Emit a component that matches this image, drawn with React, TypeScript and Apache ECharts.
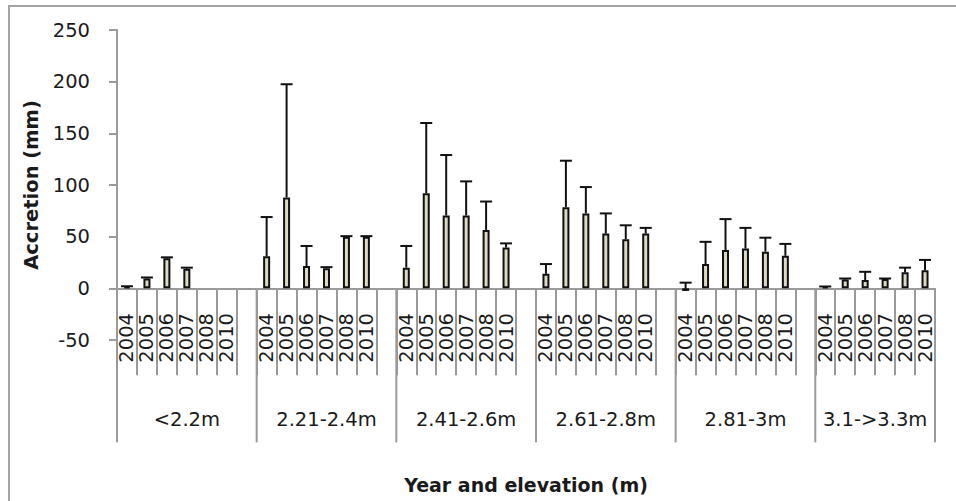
import React, { useEffect, useRef } from 'react';
import * as echarts from 'echarts';

// ---- data ----
const years = ['2004', '2005', '2006', '2007', '2008', '2010'];
const groups = ['<2.2m', '2.21-2.4m', '2.41-2.6m', '2.61-2.8m', '2.81-3m', '3.1->3.3m'];
const accretion: (number | null)[][] = [
  [1.5, 9.5, 29, 19, null, null],
  [31, 88, 21.5, 19.5, 50, 50],
  [20, 92, 70.5, 70.5, 56.5, 39.5],
  [14, 78.5, 72.5, 53, 47.5, 53],
  [-2.5, 23.5, 37, 38.5, 35.5, 31.5],
  [1.5, 8.5, 8, 9, 15.5, 17.5],
];
const errorPlus: (number | null)[][] = [
  [0.5, 1, 1, 1, null, null],
  [38, 109.5, 19.5, 1, 0.5, 0.5],
  [21, 68, 58.5, 33, 27.5, 4],
  [9.5, 45, 25.5, 19.5, 13.5, 5.5],
  [8, 21.5, 30, 20, 13.5, 11.5],
  [0.3, 1, 8, 0.5, 4.5, 10],
];
const yMin = -50;
const yMax = 250;
const yStep = 50;

const FONT = '"DejaVu Sans", Verdana, sans-serif';
const TEXT = '#1a1a1a';
const GRAY = '#9a9a9a';

// ---- derived tables ----
const categories: string[] = [];
const barData: (number | string)[] = [];
const errData: number[][] = [];
const groupSpans: number[][] = [];
groups.forEach((g, gi) => {
  const start = categories.length;
  years.forEach((y, yi) => {
    const idx = categories.length;
    categories.push(y);
    const v = accretion[gi][yi];
    const e = errorPlus[gi][yi];
    barData.push(v == null ? '-' : v);
    if (v != null && e != null) errData.push([idx, v, e]);
  });
  if (gi < groups.length - 1) {
    categories.push('');
    barData.push('-');
  }
  groupSpans.push([start, categories.length, 0]);
});

export default function App() {
  const ref = useRef<HTMLDivElement>(null);
  useEffect(() => {
    if (!ref.current) return;
    const chart = echarts.init(ref.current, null, { renderer: 'svg' });
    chart.setOption({
      animation: false,
      backgroundColor: '#fff',
      textStyle: { fontFamily: FONT },
      graphic: [
        {
          type: 'rect',
          x: 9,
          y: 6,
          shape: { x: 0, y: 0, width: 1000, height: 600 },
          style: { fill: 'none', stroke: '#a3a3a3', lineWidth: 2 },
          z: -10,
          silent: true,
        },
      ],
      grid: {
        left: 117,
        right: 21,
        top: 30,
        bottom: 161,
        containLabel: false,
        outerBoundsMode: 'none',
      },
      xAxis: {
        type: 'category',
        data: categories,
        boundaryGap: true,
        axisLine: { onZero: true, lineStyle: { color: GRAY, width: 2 } },
        axisTick: { show: true, interval: 0, length: 87, lineStyle: { color: GRAY, width: 2 } },
        axisLabel: {
          interval: 0,
          rotate: 90,
          margin: -27,
          color: TEXT,
          fontSize: 19.5,
          fontFamily: FONT,
        },
        splitLine: { show: false },
        name: 'Year and elevation (m)',
        nameLocation: 'middle',
        nameGap: 135,
        nameTextStyle: { fontWeight: 'bold', fontSize: 19, color: TEXT, fontFamily: FONT },
      },
      yAxis: {
        type: 'value',
        min: yMin,
        max: yMax,
        interval: yStep,
        axisLine: { show: true, lineStyle: { color: GRAY, width: 2 } },
        axisTick: { show: true, length: 8, lineStyle: { color: GRAY, width: 2 } },
        axisLabel: { margin: 27, color: TEXT, fontSize: 19.5, fontFamily: FONT },
        splitLine: { show: false },
        name: 'Accretion (mm)',
        nameLocation: 'middle',
        nameRotate: 90,
        nameGap: 75,
        nameTextStyle: { fontWeight: 'bold', fontSize: 19.5, color: TEXT, fontFamily: FONT },
      },
      series: [
        {
          type: 'bar',
          data: barData,
          barWidth: 7,
          itemStyle: { color: '#ddd9c3', borderColor: '#111', borderWidth: 2 },
          silent: true,
        },
        {
          type: 'custom',
          data: errData,
          encode: { x: 0, y: 1 },
          clip: false,
          silent: true,
          z: 5,
          renderItem: (params: any, api: any) => {
            const i = api.value(0);
            const v = api.value(1);
            const e = api.value(2);
            const base = api.coord([i, v]);
            const top = api.coord([i, v + e]);
            const hw = 6;
            return {
              type: 'group',
              children: [
                {
                  type: 'line',
                  shape: { x1: base[0], y1: base[1], x2: top[0], y2: top[1] },
                  style: { stroke: '#111', lineWidth: 2 },
                },
                {
                  type: 'line',
                  shape: { x1: top[0] - hw, y1: top[1], x2: top[0] + hw, y2: top[1] },
                  style: { stroke: '#111', lineWidth: 2 },
                },
              ],
            };
          },
        },
        {
          type: 'custom',
          data: groupSpans,
          encode: { x: 0, y: 2 },
          clip: false,
          silent: true,
          z: 4,
          renderItem: (params: any, api: any) => {
            const start = api.value(0);
            const end = api.value(1);
            const band = api.size([1, 0])[0];
            const p0 = api.coord([start, 0]);
            const p1 = api.coord([end - 1, 0]);
            const x0 = p0[0] - band / 2;
            const x1 = p1[0] + band / 2;
            const y0 = p0[1];
            const children: any[] = [
              {
                type: 'line',
                shape: { x1: x0, y1: y0, x2: x0, y2: y0 + 154 },
                style: { stroke: GRAY, lineWidth: 2 },
              },
              {
                type: 'text',
                style: {
                  text: groups[params.dataIndex],
                  x: (x0 + x1) / 2,
                  y: y0 + 131,
                  align: 'center',
                  verticalAlign: 'middle',
                  fill: TEXT,
                  fontSize: 19.5,
                  fontFamily: FONT,
                },
              },
            ];
            if (params.dataIndex === groups.length - 1) {
              children.push({
                type: 'line',
                shape: { x1: x1, y1: y0, x2: x1, y2: y0 + 154 },
                style: { stroke: GRAY, lineWidth: 2 },
              });
            }
            return { type: 'group', children };
          },
        },
      ],
    });
    return () => chart.dispose();
  }, []);
  return (
    <div
      ref={ref}
      style={{ position: 'fixed', left: 0, top: 0, width: 956, height: 501 }}
    />
  );
}
